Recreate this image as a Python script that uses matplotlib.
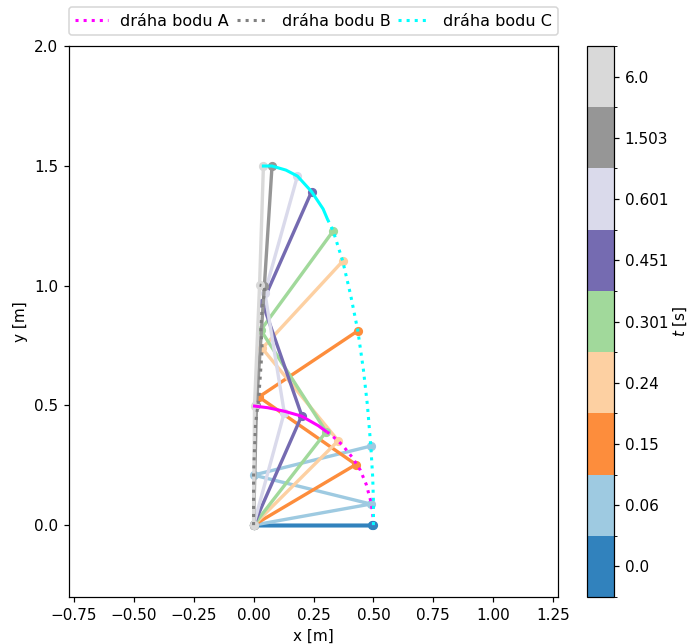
import numpy as np
import matplotlib
matplotlib.use("Agg")
import matplotlib.pyplot as plt
from matplotlib.colors import ListedColormap, BoundaryNorm
from matplotlib.cm import ScalarMappable
from matplotlib.ticker import FixedLocator

# časy zobrazených poloh [s]
casy = [0.0, 0.06, 0.15, 0.24, 0.301, 0.451, 0.601, 1.503, 6.0]

# polohy bodů v zobrazených časech [m]
O = (0.0, 0.0)
A_x = [0.493, 0.489, 0.427, 0.353, 0.303, 0.201, 0.128, 0.012, 0.004]
A_y = [0.0, 0.088, 0.253, 0.352, 0.390, 0.457, 0.470, 0.500, 0.497]
B_x = [0.0, 0.0, 0.022, 0.036, 0.030, 0.037, 0.047, 0.045, 0.025]
B_y = [0.0, 0.209, 0.535, 0.738, 0.814, 0.928, 0.970, 0.998, 1.002]
C_x = [0.500, 0.489, 0.435, 0.372, 0.332, 0.242, 0.183, 0.077, 0.041]
C_y = [0.0, 0.330, 0.811, 1.102, 1.228, 1.392, 1.457, 1.499, 1.499]

# dráhy bodů - rozběh
drahaA_x = [0.500, 0.497, 0.489, 0.470, 0.445, 0.410, 0.370, 0.320, 0.300]
drahaA_y = [0.000, 0.050, 0.100, 0.170, 0.230, 0.285, 0.335, 0.380, 0.393]
drahaB_x = [0.0, 0.0, 0.003, 0.008, 0.022, 0.036, 0.030, 0.037, 0.047, 0.045, 0.025]
drahaB_y = [0.0, 0.209, 0.300, 0.420, 0.535, 0.738, 0.814, 0.928, 0.970, 0.998, 1.002]
drahaC_x = [0.500, 0.500, 0.497, 0.489, 0.475, 0.458, 0.435, 0.405, 0.372, 0.332, 0.307]
drahaC_y = [0.000, 0.100, 0.200, 0.330, 0.500, 0.650, 0.811, 0.960, 1.102, 1.228, 1.280]

# dráhy bodů - kmitání kolem konečné polohy (hustě překryté)
kmitA_x = [0.300, 0.270, 0.200, 0.130, 0.060, 0.004]
kmitA_y = [0.393, 0.415, 0.455, 0.475, 0.490, 0.497]
kmitC_x = [0.307, 0.290, 0.242, 0.183, 0.135, 0.077, 0.041]
kmitC_y = [1.280, 1.320, 1.392, 1.457, 1.482, 1.499, 1.499]

# barvy pro jednotlivé časy
barvy = plt.cm.tab20c(np.linspace(0, 1, len(casy)))

fig = plt.figure(figsize=(689 / 110, 644 / 110), dpi=110)
ax = fig.add_axes([69 / 689, 47 / 644, 489 / 689, 551 / 644])
cax = fig.add_axes([587 / 689, 47 / 644, 27 / 689, 551 / 644])

# polohy mechanismu
for i in range(len(casy)):
    ax.plot([O[0], A_x[i], B_x[i], C_x[i]], [O[1], A_y[i], B_y[i], C_y[i]],
            '-o', color=barvy[i], lw=2.2, ms=5)

# dráhy bodů
ax.plot(drahaA_x, drahaA_y, ':', color='magenta', lw=2, label='dráha bodu A')
ax.plot(kmitA_x, kmitA_y, '-', color='magenta', lw=2)
ax.plot(drahaB_x, drahaB_y, ':', color='gray', lw=2, label='dráha bodu B')
ax.plot(drahaC_x, drahaC_y, ':', color='cyan', lw=2, label='dráha bodu C')
ax.plot(kmitC_x, kmitC_y, '-', color='cyan', lw=2)

ax.set_xlim(-0.77, 1.27)
ax.set_ylim(-0.3, 2.0)
ax.set_xlabel('x [m]')
ax.set_ylabel('y [m]')
ax.legend(bbox_to_anchor=(0., 1.02, 1., .102), loc='lower left', ncol=3,
          mode='expand', borderaxespad=0., fontsize=10.5)

# barevná škála s časy
cmap = ListedColormap(barvy)
norm = BoundaryNorm(np.arange(len(casy) + 1), len(casy))
cb = fig.colorbar(ScalarMappable(norm=norm, cmap=cmap), cax=cax,
                  ticks=np.arange(len(casy)) + 0.5)
cb.set_ticklabels([str(c) for c in casy])
cb.ax.yaxis.set_minor_locator(FixedLocator(np.arange(len(casy) + 1)))
cb.set_label('$t$ [s]', labelpad=2)

fig.savefig('out.png', dpi=110)
